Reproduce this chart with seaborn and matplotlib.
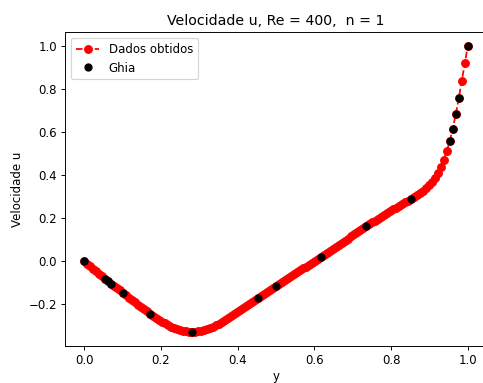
import matplotlib
matplotlib.use("Agg")
import matplotlib.pyplot as plt
import seaborn as sns

# Figure size in pixels; the original looks like a 100 dpi plot shrunk to ~85 dpi
FIG_W_PX = 483
FIG_H_PX = 383
DPI = 85

# Computed profile: u along the vertical centre line (y = j/128)
y_num = [
    0.0000, 0.0078, 0.0156, 0.0234, 0.0313, 0.0391, 0.0469, 0.0547, 0.0625, 0.0703,
    0.0781, 0.0859, 0.0938, 0.1016, 0.1094, 0.1172, 0.1250, 0.1328, 0.1406, 0.1484,
    0.1563, 0.1641, 0.1719, 0.1797, 0.1875, 0.1953, 0.2031, 0.2109, 0.2188, 0.2266,
    0.2344, 0.2422, 0.2500, 0.2578, 0.2656, 0.2734, 0.2813, 0.2891, 0.2969, 0.3047,
    0.3125, 0.3203, 0.3281, 0.3359, 0.3438, 0.3516, 0.3594, 0.3672, 0.3750, 0.3828,
    0.3906, 0.3984, 0.4063, 0.4141, 0.4219, 0.4297, 0.4375, 0.4453, 0.4531, 0.4609,
    0.4688, 0.4766, 0.4844, 0.4922, 0.5000, 0.5078, 0.5156, 0.5234, 0.5313, 0.5391,
    0.5469, 0.5547, 0.5625, 0.5703, 0.5781, 0.5859, 0.5938, 0.6016, 0.6094, 0.6172,
    0.6250, 0.6328, 0.6406, 0.6484, 0.6563, 0.6641, 0.6719, 0.6797, 0.6875, 0.6953,
    0.7031, 0.7109, 0.7188, 0.7266, 0.7344, 0.7422, 0.7500, 0.7578, 0.7656, 0.7734,
    0.7813, 0.7891, 0.7969, 0.8047, 0.8125, 0.8203, 0.8281, 0.8359, 0.8438, 0.8516,
    0.8594, 0.8672, 0.8750, 0.8828, 0.8906, 0.8984, 0.9063, 0.9141, 0.9219, 0.9297,
    0.9375, 0.9453, 0.9531, 0.9609, 0.9688, 0.9766, 0.9844, 0.9922, 1.0000,
]
u_num = [
    0.0000, -0.0118, -0.0236, -0.0353, -0.0470, -0.0587, -0.0703, -0.0819, -0.0927, -0.1034,
    -0.1141, -0.1248, -0.1354, -0.1461, -0.1573, -0.1684, -0.1794, -0.1903, -0.2011, -0.2118,
    -0.2223, -0.2327, -0.2430, -0.2528, -0.2624, -0.2716, -0.2804, -0.2887, -0.2964, -0.3034,
    -0.3096, -0.3149, -0.3193, -0.3227, -0.3252, -0.3267, -0.3273, -0.3270, -0.3259, -0.3237,
    -0.3204, -0.3160, -0.3107, -0.3046, -0.2978, -0.2903, -0.2823, -0.2738, -0.2650, -0.2560,
    -0.2468, -0.2375, -0.2281, -0.2187, -0.2092, -0.1997, -0.1902, -0.1807, -0.1712, -0.1618,
    -0.1524, -0.1430, -0.1336, -0.1242, -0.1148, -0.1057, -0.0966, -0.0876, -0.0786, -0.0696,
    -0.0605, -0.0514, -0.0423, -0.0332, -0.0241, -0.0150, -0.0059, 0.0032, 0.0123, 0.0214,
    0.0308, 0.0402, 0.0496, 0.0590, 0.0685, 0.0779, 0.0873, 0.0967, 0.1061, 0.1156,
    0.1250, 0.1344, 0.1438, 0.1532, 0.1626, 0.1718, 0.1809, 0.1899, 0.1988, 0.2076,
    0.2163, 0.2249, 0.2334, 0.2418, 0.2501, 0.2584, 0.2666, 0.2748, 0.2829, 0.2909,
    0.2989, 0.3079, 0.3179, 0.3289, 0.3409, 0.3539, 0.3689, 0.3869, 0.4089, 0.4379,
    0.4720, 0.5120, 0.5589, 0.6176, 0.6844, 0.7584, 0.8380, 0.9200, 1.0000,
]

# Ghia et al. reference values, Re = 400
y_ghia = [1.0000, 0.9766, 0.9688, 0.9609, 0.9531, 0.8516, 0.7344, 0.6172, 0.5000,
          0.4531, 0.2813, 0.1719, 0.1016, 0.0703, 0.0625, 0.0547, 0.0000]
u_ghia = [1.00000, 0.75837, 0.68439, 0.61756, 0.55892, 0.29093, 0.16256, 0.02135,
          -0.11477, -0.17119, -0.32726, -0.24299, -0.14612, -0.10338, -0.09266,
          -0.08186, 0.00000]

fig = plt.figure(figsize=(FIG_W_PX / DPI, FIG_H_PX / DPI), dpi=DPI)
# axes run a little past the right edge, like the cropped original
ax = fig.add_axes([0.1348, 0.0966, 0.8733, 0.8198])

sns.lineplot(x=y_num, y=u_num, ax=ax, sort=False, errorbar=None,
             color="red", linestyle="--", marker="o", markersize=6.5,
             markeredgecolor="red", markeredgewidth=1.0, label="Dados obtidos")
ax.plot(y_ghia, u_ghia, "o", color="black", markersize=6, label="Ghia")

ax.set_title("Velocidade u, Re = 400,  n = 1")
ax.set_xlabel("y", labelpad=2)
ax.set_ylabel("Velocidade u")
ax.legend(loc="upper left")

fig.savefig("out.png", dpi=DPI)
